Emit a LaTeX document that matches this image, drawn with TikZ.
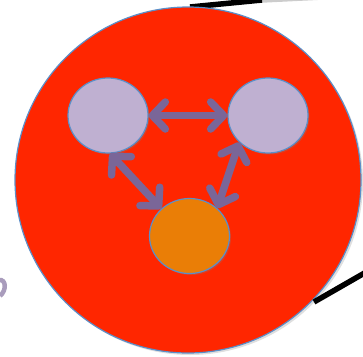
\documentclass[tikz,border=0pt]{standalone}
\usetikzlibrary{arrows.meta,shapes.geometric,shadows}

\definecolor{cellred}{HTML}{FF2600}
\definecolor{rimblue}{HTML}{5B8FC9}
\definecolor{lilac}{HTML}{BFB0D1}
\definecolor{amber}{HTML}{EA7E06}
\definecolor{linkpurple}{HTML}{7A6698}

\begin{document}
\begin{tikzpicture}[
        x=1pt, y=-1pt,
        >={Straight Barb[length=13pt,width=27pt,round]},
        cell/.style={circle, draw=rimblue, line width=1.2pt, fill=cellred,
            minimum size=346pt, inner sep=0pt,
            drop shadow={opacity=0.25, shadow xshift=2pt, shadow yshift=-2pt}},
        unit/.style={ellipse, draw=rimblue, line width=1.2pt,
            minimum width=80pt, minimum height=75pt, inner sep=0pt,
            drop shadow={opacity=0.3, shadow xshift=1.5pt, shadow yshift=-1.5pt}},
        link/.style={<->, draw=linkpurple, line width=7.5pt, line cap=round},
        zoomline/.style={line width=5.5pt}
    ]
    \useasboundingbox (0,0) rectangle (363,356);

    % zoom lines
    \coordinate (zt) at (190,7);
    \coordinate (zb) at (314,302);
    \draw[zoomline, black!20] (262,0) -- (363,-5);
    \draw[zoomline] (zt) -- (262,0);

    \node[cell] (net) at (188,180) {};

    \node[unit, fill=lilac] (left)  at (108,115.5) {};
    \node[unit, fill=lilac] (right) at (268,115.5) {};
    \node[unit, fill=amber] (low)   at (189.5,236) {};

    \draw[zoomline] (zb) -- (368,271);

    \path
    (left.east)   edge[link] (right.west)
    (left.-87)    edge[link] (low.136)
    (right.223)   edge[link] (low.45);

    % cut-off glyph at the left border
    \draw[linkpurple!65, line width=4.5pt]
        (-1,280) .. controls (6,279) and (7,290) .. (0,296);
\end{tikzpicture}
\end{document}
